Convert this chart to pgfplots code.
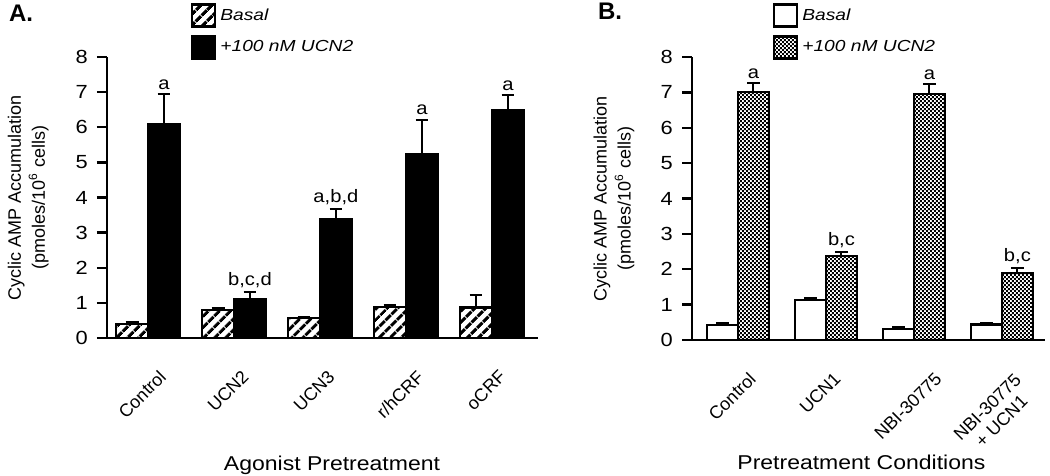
\documentclass[border=0pt]{standalone}
\usepackage{fontspec}
\setmainfont{Liberation Sans}
\usepackage{graphicx}
\usepackage{pgfplots}
\pgfplotsset{compat=1.18}
\usepackage{pgfplotstable}
\usetikzlibrary{patterns,patterns.meta}
\pgfdeclarepatternformonly{checker}{\pgfpointorigin}{\pgfqpoint{2.2pt}{2.2pt}}{\pgfqpoint{2.2pt}{2.2pt}}{%
  \pgfpathrectangle{\pgfpointorigin}{\pgfqpoint{1.1pt}{1.1pt}}%
  \pgfpathrectangle{\pgfqpoint{1.1pt}{1.1pt}}{\pgfqpoint{1.1pt}{1.1pt}}%
  \pgfusepath{fill}}
\newcommand{\sx}[2][1.2]{\scalebox{#1}[1]{#2}}

\pgfplotstableread{
x y e
0 0.39 0.06
1 0.80 0.06
2 0.56 0.05
3 0.88 0.05
4 0.87 0.35
}\dataAbasal
\pgfplotstableread{
x y e
0 6.10 0.85
1 1.10 0.20
2 3.38 0.30
3 5.24 0.98
4 6.50 0.42
}\dataAucn
\pgfplotstableread{
x y e
0 0.42 0.06
1 1.13 0.05
2 0.31 0.07
3 0.44 0.05
}\dataBbasal
\pgfplotstableread{
x y e
0 7.00 0.27
1 2.38 0.10
2 6.95 0.28
3 1.90 0.13
}\dataBucn

\pgfplotsset{
 panel/.style={
  scale only axis, axis x line=bottom, axis y line=left,
  axis line style={-, line width=1.2pt},
  ymin=0, ymax=8, ytick={0,...,8},
  /pgf/number format/assume math mode=true,
  tick align=outside, major tick length=5pt,
  ytick style={line width=1.2pt, black},
  xtick style={draw=none},
  yticklabel style={font=\fontsize{9.5}{10}\selectfont, xscale=1.15, xshift=-0.5pt},
  xticklabel style={font=\fontsize{9}{10}\selectfont, anchor=north, yshift=-7pt, xshift=-3pt},
  ylabel style={font=\fontsize{9}{12}\selectfont, align=center, anchor=center},
  xlabel style={font=\fontsize{10}{12}\selectfont, anchor=base, xscale=1.15},
  clip=false,
  legend style={draw=none, fill=none, inner sep=0pt, font=\fontsize{8}{9}\selectfont\itshape, row sep=3.5pt, cells={anchor=west}},
  legend image code/.code={\draw[##1, line width=1.4pt] (0pt,-5.5pt) rectangle (11.5pt,5.5pt);},
 },
 err/.style={error bars/.cd, y dir=plus, y explicit, error bar style={line width=1pt, black}, error mark options={rotate=90, line width=1pt, mark size=3.2pt, black}},
 lab/.style={draw=none, mark=none, forget plot, nodes near coords, point meta=explicit symbolic,
   every node near coord/.append style={font=\fontsize{9}{10}\selectfont, anchor=south, inner sep=2pt, xscale=1.12}},
}

\begin{document}
\begin{tikzpicture}
\useasboundingbox (0,0) rectangle (525pt,238pt);

\begin{axis}[panel, at={(53.5pt,69pt)}, anchor=south west, width=215.5pt, height=140.5pt,
  xmin=-0.477, xmax=4.535, xtick={0,...,4},
  xticklabels={\rotatebox{45}{Control},\rotatebox{45}{UCN2},\rotatebox{45}{UCN3},\rotatebox{45}{r/hCRF},\rotatebox{45}{oCRF}},
  xlabel={Agonist Pretreatment},
  ylabel={Cyclic AMP Accumulation\\(pmoles/10\textsuperscript{6} cells)},
  ylabel style={at={(axis description cs:-0.183,0.5)}},
  xlabel style={at={(axis description cs:0.522,-0.47)}},
  legend style={at={(axis description cs:0.193,1.192)}, anchor=north west}]
\addplot[ybar, bar width=0.37, bar shift=0pt, draw=black, line width=1.1pt,
  pattern={Lines[angle=45,distance=4pt,line width=1.7pt]}, err]
  table[x expr=\thisrow{x}-0.185, y=y, y error=e] {\dataAbasal};
\addlegendentry{\sx{Basal}}
\addplot[ybar, bar width=0.37, bar shift=0pt, draw=black, fill=black, line width=1.1pt, err]
  table[x expr=\thisrow{x}+0.185, y=y, y error=e] {\dataAucn};
\addlegendentry{\sx{+100 nM UCN2}}
\addplot[lab] coordinates {(0.185,6.95) [a] (1.185,1.30) [b,c,d] (2.185,3.68) [a,b,d] (3.185,6.22) [a] (4.185,6.92) [a]};
\end{axis}

\begin{axis}[panel, at={(346pt,68pt)}, anchor=south west, width=176.5pt, height=141.5pt,
  xmin=-0.523, xmax=3.49, xtick={0,...,3},
  xticklabels={\rotatebox{45}{Control},\rotatebox{45}{UCN1},\rotatebox{45}{NBI-30775},{\rotatebox{45}{\begin{tabular}{@{}c@{}}NBI-30775\\+ UCN1\end{tabular}}}},
  xlabel={Pretreatment Conditions},
  ylabel={Cyclic AMP Accumulation\\(pmoles/10\textsuperscript{6} cells)},
  ylabel style={at={(axis description cs:-0.221,0.5)}},
  xlabel style={at={(axis description cs:0.48,-0.459)}},
  legend style={at={(axis description cs:0.227,1.191)}, anchor=north west}]
\addplot[ybar, bar width=0.352, bar shift=0pt, draw=black, fill=white, line width=1.1pt, err]
  table[x expr=\thisrow{x}-0.176, y=y, y error=e] {\dataBbasal};
\addlegendentry{\sx{Basal}}
\addplot[ybar, bar width=0.352, bar shift=0pt, draw=black, pattern=checker, line width=1.1pt, err]
  table[x expr=\thisrow{x}+0.176, y=y, y error=e] {\dataBucn};
\addlegendentry{\sx{+100 nM UCN2}}
\addplot[lab] coordinates {(0.176,7.27) [a] (1.176,2.48) [b,c] (2.176,7.23) [a] (3.176,2.03) [b,c]};
\end{axis}

\node[anchor=base west, font=\bfseries\fontsize{12}{14}\selectfont] at (1pt,227pt) {A.};
\node[anchor=base west, font=\bfseries\fontsize{12}{14}\selectfont] at (295.5pt,228pt) {B.};
\end{tikzpicture}
\end{document}
